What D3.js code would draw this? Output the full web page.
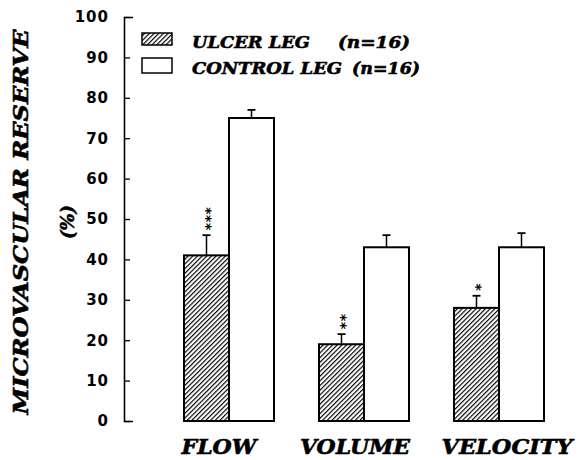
<!DOCTYPE html>
<html><head><meta charset="utf-8">
<script src="https://cdn.jsdelivr.net/npm/d3@7"></script>
<style>body{margin:0;background:#fff}svg{display:block}</style>
</head><body>
<svg id="c" width="580" height="460"></svg>
<script>
const categories = ["FLOW", "VOLUME", "VELOCITY"];
const seriesNames = ["ULCER LEG", "CONTROL LEG"];
const seriesN = ["(n=16)", "(n=16)"];
const ulcerValues = [41, 19, 28];
const ulcerErrors = [5, 2.5, 3];
const controlValues = [75, 43, 43];
const controlErrors = [2, 3, 3.5];
const significance = ["***", "**", "*"];
const yTicks = [0, 10, 20, 30, 40, 50, 60, 70, 80, 90, 100];

const svg = d3.select("#c");
const serif = "'DejaVu Serif', serif";
const y = d3.scaleLinear().domain([0, 100]).range([421, 17]);
const x = d3.scalePoint().domain(categories).range([229, 499]);
const barW = 45;

function heavy(sel, size) {
  return sel.attr("font-family", serif).attr("font-style", "italic").attr("font-weight", "bold")
    .attr("font-size", size).attr("fill", "#000").attr("stroke", "#000").attr("stroke-width", 0.6);
}

const defs = svg.append("defs");
const pat = defs.append("pattern").attr("id", "hatch").attr("patternUnits", "userSpaceOnUse")
  .attr("width", 3.3).attr("height", 3.3).attr("patternTransform", "rotate(45)");
pat.append("rect").attr("width", 3.3).attr("height", 3.3).attr("fill", "#fff");
pat.append("line").attr("x1", 0).attr("y1", 0).attr("x2", 0).attr("y2", 3.3)
  .attr("stroke", "#000").attr("stroke-width", 2.3);

// axis
const axis = d3.axisLeft(y).tickValues(yTicks).tickSize(-6).tickSizeOuter(-9).tickPadding(15);
const ga = svg.append("g").attr("transform", "translate(124,0)").call(axis);
ga.select(".domain").attr("stroke-width", 1.6);
ga.selectAll(".tick line").attr("stroke-width", 1.3);
ga.selectAll(".tick text").attr("font-family", "'DejaVu Sans', sans-serif")
  .attr("font-size", 15).attr("font-weight", "bold").attr("fill", "#000").attr("letter-spacing", 1);

// bars
const data = categories.map((c, i) => ({c, i}));
const g = svg.append("g");
data.forEach(d => {
  const xu = x(d.c) - barW / 2, xc = x(d.c) + barW / 2;
  [[xu, ulcerValues[d.i], ulcerErrors[d.i]], [xc, controlValues[d.i], controlErrors[d.i]]].forEach(([cx, v, e]) => {
    g.append("line").attr("x1", cx).attr("x2", cx).attr("y1", y(v)).attr("y2", y(v + e))
      .attr("stroke", "#000").attr("stroke-width", 1.5);
    g.append("line").attr("x1", cx - 4).attr("x2", cx + 4).attr("y1", y(v + e)).attr("y2", y(v + e))
      .attr("stroke", "#000").attr("stroke-width", 1.8);
  });
});
g.selectAll("rect.u").data(data).join("rect").attr("class", "u")
  .attr("x", d => x(d.c) - barW).attr("width", barW)
  .attr("y", d => y(ulcerValues[d.i])).attr("height", d => y(0) - y(ulcerValues[d.i]))
  .attr("fill", "url(#hatch)").attr("stroke", "#000").attr("stroke-width", 2);
g.selectAll("rect.k").data(data).join("rect").attr("class", "k")
  .attr("x", d => x(d.c)).attr("width", barW)
  .attr("y", d => y(controlValues[d.i])).attr("height", d => y(0) - y(controlValues[d.i]))
  .attr("fill", "#fff").attr("stroke", "#000").attr("stroke-width", 2);

// significance stars: one text per bar, rotated so the asterisks stack vertically
const starFs = 14;
data.forEach(d => {
  const top = y(ulcerValues[d.i] + ulcerErrors[d.i]);
  const cx = x(d.c) - barW / 2;
  svg.append("text")
    .attr("transform", `translate(${cx + starFs * 0.6},${top - 5}) rotate(-90)`)
    .attr("text-anchor", "start").attr("letter-spacing", 0.5)
    .attr("font-family", "'DejaVu Sans', sans-serif").attr("font-size", starFs).attr("font-weight", "bold")
    .text(significance[d.i]);
});

// x labels
const xLabelW = {FLOW: 75, VOLUME: 110, VELOCITY: 131};
const xLabelC = {FLOW: 219, VOLUME: 355, VELOCITY: 507};
categories.forEach(c => {
  heavy(svg.append("text"), 20).attr("x", xLabelC[c] - xLabelW[c] / 2).attr("y", 454)
    .attr("textLength", xLabelW[c]).attr("lengthAdjust", "spacingAndGlyphs").text(c);
});

// y title
heavy(svg.append("text"), 21).attr("transform", "translate(28,222) rotate(-90)").attr("text-anchor", "middle")
  .attr("textLength", 385).attr("lengthAdjust", "spacingAndGlyphs").text("MICROVASCULAR RESERVE");
heavy(svg.append("text"), 18).attr("transform", "translate(74,222) rotate(-90)").attr("text-anchor", "middle")
  .text("(%)");

// legend
const leg = svg.append("g");
const legY = [33, 58];
const legBase = [48, 74];
const legFill = ["url(#hatch)", "#fff"];
const legNameW = [118, 150];
const legNX = [338, 352];
const legNW = [72, 68];
seriesNames.forEach((s, i) => {
  leg.append("rect").attr("x", 142).attr("y", legY[i]).attr("width", 30).attr("height", i ? 15 : 12)
    .attr("fill", legFill[i]).attr("stroke", "#000").attr("stroke-width", 1.5);
  heavy(leg.append("text"), 17).attr("x", 192).attr("y", legBase[i])
    .attr("textLength", legNameW[i]).attr("lengthAdjust", "spacingAndGlyphs").text(s);
  heavy(leg.append("text"), 17).attr("x", legNX[i]).attr("y", legBase[i])
    .attr("textLength", legNW[i]).attr("lengthAdjust", "spacingAndGlyphs").text(seriesN[i]);
});
</script>
</body></html>
